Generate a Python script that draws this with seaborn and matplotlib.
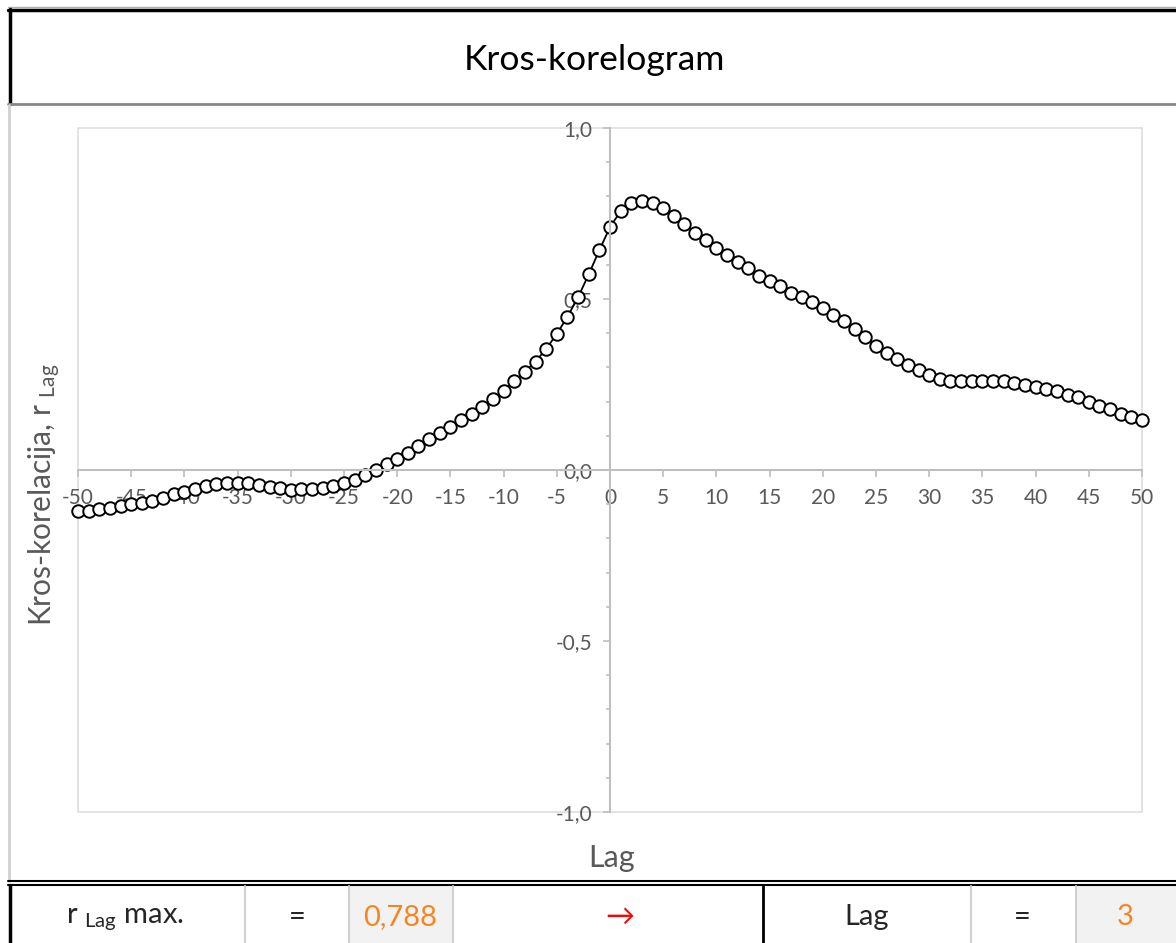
import matplotlib
matplotlib.use("Agg")
import matplotlib.pyplot as plt
from matplotlib.patches import Rectangle
from matplotlib.ticker import MultipleLocator, FixedLocator
import seaborn as sns
import pandas as pd

# cross-correlation, lag -50..50
lags = list(range(-50, 51))
r_lag = [
    -0.120, -0.119, -0.114, -0.110, -0.105, -0.099, -0.096, -0.090, -0.081, -0.071,
    -0.065, -0.057, -0.048, -0.042, -0.037, -0.037, -0.039, -0.043, -0.049, -0.054,
    -0.058, -0.057, -0.057, -0.052, -0.048, -0.037, -0.029, -0.015, 0.000, 0.019,
    0.033, 0.051, 0.071, 0.090, 0.109, 0.127, 0.146, 0.164, 0.183, 0.208,
    0.232, 0.259, 0.288, 0.317, 0.354, 0.398, 0.448, 0.505, 0.572, 0.643,
    0.710,
    0.757, 0.782, 0.788, 0.780, 0.766, 0.744, 0.719, 0.692, 0.673, 0.648,
    0.629, 0.609, 0.591, 0.567, 0.554, 0.538, 0.519, 0.505, 0.491, 0.473,
    0.454, 0.435, 0.411, 0.388, 0.364, 0.341, 0.326, 0.307, 0.292, 0.278,
    0.265, 0.259, 0.259, 0.259, 0.261, 0.261, 0.259, 0.254, 0.249, 0.244,
    0.236, 0.231, 0.220, 0.213, 0.198, 0.188, 0.178, 0.165, 0.156, 0.145,
]
x_ticks = list(range(-50, 51, 5))
y_ticks = [-1.0, -0.5, 0.0, 0.5, 1.0]
y_tick_labels = ["-1,0", "-0,5", "0,0", "0,5", "1,0"]
r_max_label = "0,788"
lag_max_label = "3"

sns.set_theme(style="white")
plt.rcParams["font.family"] = ["Lato", "DejaVu Sans"]
plt.rcParams["mathtext.fontset"] = "custom"
plt.rcParams["mathtext.rm"] = "Lato"
plt.rcParams["mathtext.it"] = "Lato:italic"

W, H = 1176, 943
fig = plt.figure(figsize=(W / 100, H / 100), dpi=100)
fig.patch.set_facecolor("white")

# frame / table layer in pixel coordinates
bg = fig.add_axes([0, 0, 1, 1], zorder=0)
bg.set_xlim(0, W)
bg.set_ylim(H, 0)
bg.axis("off")

# title box
bg.plot([8, W], [7, 7], color="#b0b0b0", lw=1)
bg.plot([8, W], [9.5, 9.5], color="black", lw=2.5)
bg.plot([9.5, 9.5], [9, 104], color="black", lw=2.5)
bg.plot([8, W], [104, 104], color="#888888", lw=2)
bg.plot([8.5, 8.5], [105, 881], color="#d0d0d0", lw=2)
bg.text(594, 60, "Kros-korelogram", fontsize=25.5, color="black",
        ha="center", va="center")

# bottom table
for x0, x1 in [(349, 453), (1076, W)]:
    bg.add_patch(Rectangle((x0, 886), x1 - x0, H - 886, color="#f2f2f2", lw=0))
bg.plot([8, W], [881, 881], color="black", lw=1.5)
bg.plot([8, W], [885, 885], color="black", lw=1.5)
bg.plot([9.5, 9.5], [885, H], color="black", lw=2.5)
for xv in [245, 349, 453, 971, 1076]:
    bg.plot([xv, xv], [886, H], color="#d0d0d0", lw=1.5)
bg.plot([763, 763], [886, H], color="black", lw=2)

ty = 917
fs_tab = 21
bg.text(125, ty + 2, r"r $_{\mathrm{Lag}}$ max.", fontsize=fs_tab, ha="center", va="center")
bg.text(297, ty, "=", fontsize=fs_tab, ha="center", va="center")
bg.text(400, ty, r_max_label, fontsize=fs_tab, color="#f5861f", ha="center", va="center")
bg.text(620, ty, "\u2192", fontsize=fs_tab, color="#ff0000", ha="center", va="center")
bg.text(867, ty, "Lag", fontsize=fs_tab, ha="center", va="center")
bg.text(1022, ty, "=", fontsize=fs_tab, ha="center", va="center")
bg.text(1125, ty, lag_max_label, fontsize=fs_tab, color="#f5861f", ha="center", va="center")

# main chart
ax = fig.add_axes([78 / W, 1 - 812 / H, (1142 - 78) / W, (812 - 128) / H], zorder=1)
ax.patch.set_alpha(0)
df = pd.DataFrame({"lag": lags, "r": r_lag})
sns.lineplot(data=df, x="lag", y="r", ax=ax, color="black", linewidth=1.3,
             marker="o", markersize=9, markerfacecolor="white",
             markeredgecolor="black", markeredgewidth=1.4)
for ln in ax.lines:
    ln.set_clip_on(False)

ax.set_xlim(-50, 50)
ax.set_ylim(-1, 1)
ax.set_xlabel("")
ax.set_ylabel("")

ax.spines["left"].set_position(("data", 0))
ax.spines["bottom"].set_position(("data", 0))
for s in ["left", "bottom"]:
    ax.spines[s].set_color("#bfbfbf")
    ax.spines[s].set_linewidth(1.5)
for s in ["top", "right"]:
    ax.spines[s].set_visible(False)
ax.add_patch(Rectangle((0, 0), 1, 1, transform=ax.transAxes, fill=False,
                       edgecolor="#dedede", lw=1.2, clip_on=False, zorder=0))

ax.xaxis.set_major_locator(FixedLocator(x_ticks))
ax.set_xticklabels([str(v) for v in x_ticks])
ax.yaxis.set_major_locator(FixedLocator(y_ticks))
ax.set_yticklabels(y_tick_labels)
ax.yaxis.set_minor_locator(MultipleLocator(0.1))

ax.tick_params(axis="x", which="major", direction="out", length=5, width=1.2,
               color="#bfbfbf", labelcolor="#595959", labelsize=15, pad=8,
               bottom=True)
ax.tick_params(axis="y", which="major", direction="out", length=5, width=1.2,
               color="#bfbfbf", labelcolor="#595959", labelsize=15, pad=8,
               left=True)
ax.tick_params(axis="y", which="minor", direction="out", length=3, width=1.2,
               color="#bfbfbf", left=True)

fig.text(612 / W, 1 - 858 / H, "Lag", fontsize=22, color="#595959",
         ha="center", va="center")
fig.text(45 / W, 1 - 495 / H, r"Kros-korelacija, r $_{\mathrm{Lag}}$", fontsize=21.5,
         color="#595959", rotation=90, ha="center", va="center")

fig.savefig("out.png", dpi=100)
